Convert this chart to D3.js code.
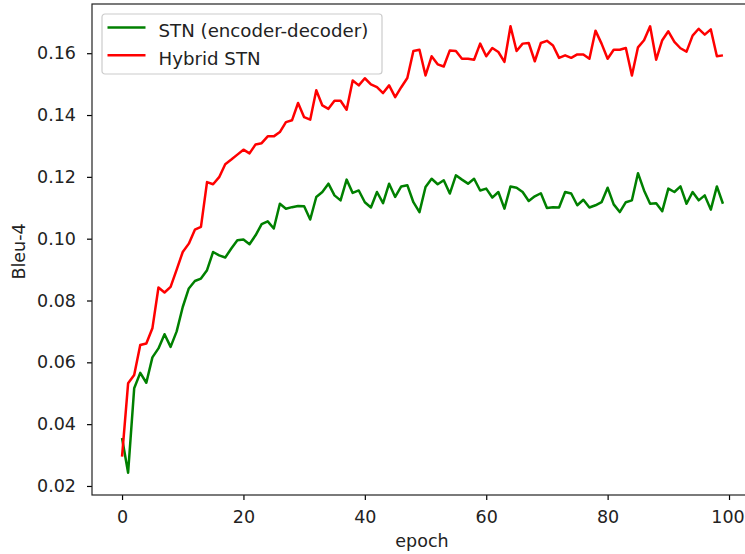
<!DOCTYPE html>
<html>
<head>
<meta charset="utf-8">
<script src="https://cdn.jsdelivr.net/npm/d3@7"></script>
<style>
  body { margin: 0; background: #fff; }
  svg { display: block; font-family: "DejaVu Sans", sans-serif; }
</style>
</head>
<body>
<div id="chart"></div>
<script>
// Data: Bleu-4 per epoch
var epochs = d3.range(0, 100);

var stnEncDec = [
  0.0355, 0.0243, 0.0516, 0.0566, 0.0534, 0.0616, 0.0645, 0.0691, 0.0650, 0.0700,
  0.0779, 0.0839, 0.0863, 0.0871, 0.0898, 0.0957, 0.0946, 0.0939, 0.0968, 0.0995,
  0.0997, 0.0982, 0.1011, 0.1047, 0.1056, 0.1033, 0.1113, 0.1097, 0.1102, 0.1106,
  0.1105, 0.1062, 0.1135, 0.1151, 0.1178, 0.1140, 0.1124, 0.1191, 0.1148, 0.1156,
  0.1118, 0.1101, 0.1151, 0.1115, 0.1178, 0.1135, 0.1169, 0.1173, 0.1118, 0.1086,
  0.1167, 0.1194, 0.1176, 0.1189, 0.1146, 0.1205, 0.1191, 0.1178, 0.1194, 0.1156,
  0.1162, 0.1133, 0.1151, 0.1097, 0.1169, 0.1165, 0.1151, 0.1122, 0.1137, 0.1147,
  0.1099, 0.1102, 0.1101, 0.1151, 0.1146, 0.1108, 0.1126, 0.1101, 0.1108, 0.1118,
  0.1165, 0.1111, 0.1086, 0.1118, 0.1124, 0.1212, 0.1156, 0.1113, 0.1115, 0.1089,
  0.1162, 0.1151, 0.1169, 0.1113, 0.1151, 0.1124, 0.1140, 0.1094, 0.1169, 0.1113
];

var hybridStn = [
  0.0295, 0.0532, 0.0559, 0.0656, 0.0661, 0.0710, 0.0842, 0.0826, 0.0844, 0.0900,
  0.0957, 0.0984, 0.1029, 0.1038, 0.1183, 0.1176, 0.1199, 0.1241, 0.1256, 0.1272,
  0.1288, 0.1276, 0.1305, 0.1309, 0.1331, 0.1331, 0.1345, 0.1377, 0.1383, 0.1439,
  0.1393, 0.1385, 0.1480, 0.1431, 0.1420, 0.1446, 0.1446, 0.1417, 0.1512, 0.1496,
  0.1519, 0.1499, 0.1490, 0.1471, 0.1496, 0.1458, 0.1490, 0.1520, 0.1607, 0.1611,
  0.1528, 0.1590, 0.1564, 0.1557, 0.1609, 0.1607, 0.1582, 0.1582, 0.1579, 0.1631,
  0.1590, 0.1617, 0.1604, 0.1572, 0.1687, 0.1607, 0.1631, 0.1633, 0.1574, 0.1633,
  0.1640, 0.1625, 0.1585, 0.1593, 0.1585, 0.1596, 0.1596, 0.1582, 0.1673, 0.1631,
  0.1582, 0.1611, 0.1611, 0.1617, 0.1528, 0.1619, 0.1642, 0.1687, 0.1579, 0.1642,
  0.1671, 0.1637, 0.1616, 0.1605, 0.1657, 0.1679, 0.1660, 0.1677, 0.1590, 0.1593
];

var xTicks = [0, 20, 40, 60, 80, 100];
var yTicks = [0.02, 0.04, 0.06, 0.08, 0.10, 0.12, 0.14, 0.16];

var series = [
  { name: "STN (encoder-decoder)", values: stnEncDec, color: "#008000" },
  { name: "Hybrid STN", values: hybridStn, color: "#ff0000" }
];

var fontSize = "17.5px";

// Setup: dimensions (right spine falls just outside the window, as in the source)
var W = 745, H = 554;
var margin = { top: 4, right: -8, bottom: 59, left: 92 };
var width = W - margin.left - margin.right;
var height = H - margin.top - margin.bottom;

// matplotlib-style 5% padding on the data limits
var xExt = d3.extent(epochs);
var xPad = (xExt[1] - xExt[0]) * 0.05;
var allY = stnEncDec.concat(hybridStn);
var yExt = d3.extent(allY);
var yPad = (yExt[1] - yExt[0]) * 0.05;

var x = d3.scaleLinear()
  .domain([xExt[0] - xPad, xExt[1] + xPad])
  .range([0, width]);

var y = d3.scaleLinear()
  .domain([yExt[0] - yPad, yExt[1] + yPad])
  .range([height, 0]);

var svg = d3.select("#chart").append("svg")
  .attr("width", W)
  .attr("height", H);

var g = svg.append("g")
  .attr("transform", "translate(" + margin.left + "," + margin.top + ")");

var line = d3.line()
  .x(function(d, i){ return x(epochs[i]) })
  .y(function(d){ return y(d) });

series.forEach(function(s){
  g.append("path")
    .datum(s.values)
    .attr("fill", "none")
    .attr("stroke", s.color)
    .attr("stroke-width", 2.5)
    .attr("stroke-linejoin", "round")
    .attr("stroke-linecap", "butt")
    .attr("d", line);
});

// Axes
var xAxis = g.append("g")
  .attr("transform", "translate(0," + height + ")")
  .call(d3.axisBottom(x).tickValues(xTicks).tickSize(5).tickPadding(11).tickFormat(d3.format("d")));

var yAxis = g.append("g")
  .call(d3.axisLeft(y).tickValues(yTicks).tickSize(5).tickPadding(11).tickFormat(d3.format(".2f")));

[xAxis, yAxis].forEach(function(a){
  a.select(".domain").remove();
  a.selectAll("line").attr("stroke", "#000").attr("stroke-width", 1.2);
  a.selectAll("text")
    .attr("fill", "#222")
    .style("font-size", fontSize)
    .style("font-family", "'DejaVu Sans', sans-serif");
});

// last x label sits right at the window edge; keep it inside
xAxis.selectAll(".tick text")
  .filter(function(d){ return d === 100 })
  .attr("dx", "-1.5");

// Frame (spines)
g.append("rect")
  .attr("x", 0).attr("y", 0)
  .attr("width", width).attr("height", height)
  .attr("fill", "none")
  .attr("stroke", "#222")
  .attr("stroke-width", 1.2);

// Axis labels
svg.append("text")
  .attr("x", 422).attr("y", 547)
  .attr("text-anchor", "middle")
  .attr("fill", "#222")
  .style("font-size", fontSize)
  .text("epoch");

svg.append("text")
  .attr("transform", "translate(25," + (margin.top + height / 2 + 2) + ") rotate(-90)")
  .attr("text-anchor", "middle")
  .attr("fill", "#222")
  .style("font-size", fontSize)
  .text("Bleu-4");

// Legend
var lg = g.append("g").attr("transform", "translate(10,10)");
lg.append("rect")
  .attr("width", 280).attr("height", 60)
  .attr("rx", 3)
  .attr("fill", "#fff")
  .attr("fill-opacity", 0.8)
  .attr("stroke", "#ccc")
  .attr("stroke-width", 1.2);

series.forEach(function(s, i){
  var yy = 13.5 + i * 27.7;
  lg.append("line")
    .attr("x1", 5.5).attr("x2", 43.5)
    .attr("y1", yy).attr("y2", yy)
    .attr("stroke", s.color)
    .attr("stroke-width", 2.5);
  lg.append("text")
    .attr("x", 56.5).attr("y", yy + 9.3)
    .attr("fill", "#222")
    .style("font-size", "18.2px")
    .text(s.name);
});
</script>
</body>
</html>
